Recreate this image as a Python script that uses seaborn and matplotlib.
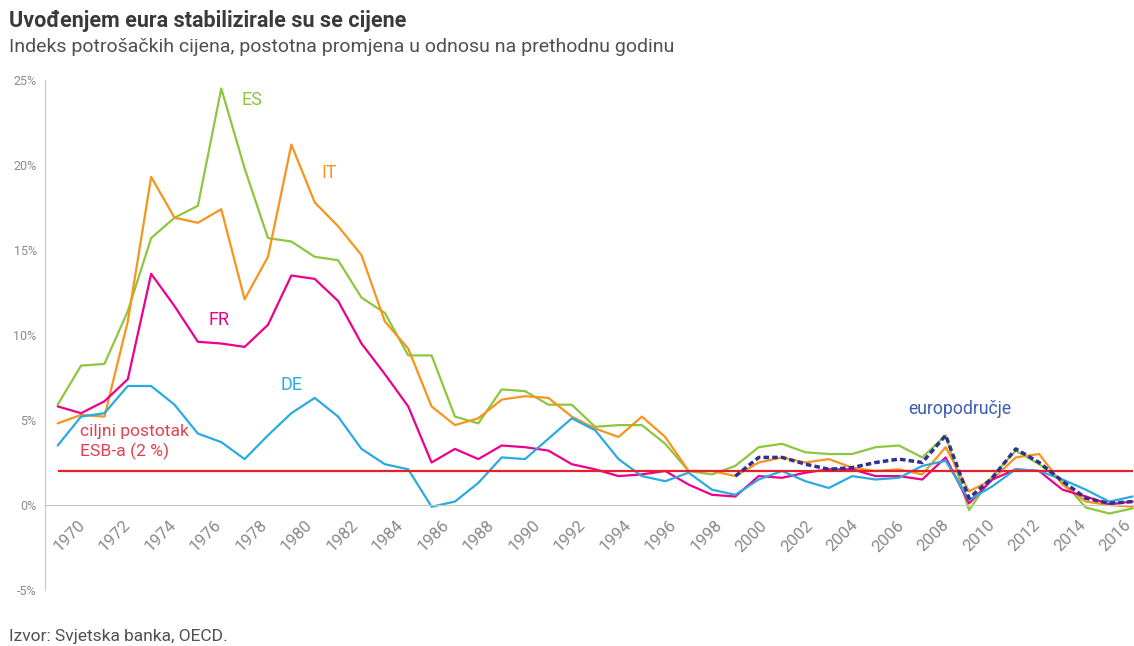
import seaborn as sns
import matplotlib.pyplot as plt

# godišnja inflacija (CPI), % promjena
years = list(range(1970, 2017))
es = [5.9, 8.2, 8.3, 11.4, 15.7, 16.9, 17.6, 24.5, 19.8, 15.7,
      15.5, 14.6, 14.4, 12.2, 11.3, 8.8, 8.8, 5.2, 4.8, 6.8,
      6.7, 5.9, 5.9, 4.6, 4.7, 4.7, 3.6, 2.0, 1.8, 2.3,
      3.4, 3.6, 3.1, 3.0, 3.0, 3.4, 3.5, 2.8, 4.1, -0.3,
      1.7, 3.2, 2.4, 1.4, -0.15, -0.5, -0.2]
it = [4.8, 5.3, 5.2, 10.8, 19.3, 16.9, 16.6, 17.4, 12.1, 14.6,
      21.2, 17.8, 16.4, 14.7, 10.8, 9.2, 5.8, 4.7, 5.1, 6.2,
      6.4, 6.3, 5.2, 4.5, 4.0, 5.2, 4.0, 2.0, 2.0, 1.7,
      2.5, 2.8, 2.5, 2.7, 2.2, 2.0, 2.1, 1.8, 3.4, 0.8,
      1.5, 2.8, 3.0, 1.2, 0.2, 0.0, -0.1]
fr = [5.8, 5.4, 6.1, 7.4, 13.6, 11.7, 9.6, 9.5, 9.3, 10.6,
      13.5, 13.3, 12.0, 9.5, 7.7, 5.8, 2.5, 3.3, 2.7, 3.5,
      3.4, 3.2, 2.4, 2.1, 1.7, 1.8, 2.0, 1.2, 0.6, 0.5,
      1.7, 1.6, 1.9, 2.1, 2.1, 1.7, 1.7, 1.5, 2.8, 0.1,
      1.5, 2.1, 2.0, 0.9, 0.5, 0.05, 0.2]
de = [3.5, 5.2, 5.4, 7.0, 7.0, 5.9, 4.2, 3.7, 2.7, 4.1,
      5.4, 6.3, 5.2, 3.3, 2.4, 2.1, -0.1, 0.2, 1.3, 2.8,
      2.7, 3.9, 5.1, 4.4, 2.7, 1.7, 1.4, 1.9, 0.9, 0.6,
      1.5, 2.0, 1.4, 1.0, 1.7, 1.5, 1.6, 2.3, 2.6, 0.3,
      1.1, 2.1, 2.0, 1.5, 0.9, 0.2, 0.5]
ea_years = list(range(1999, 2017))
ea = [1.7, 2.8, 2.8, 2.4, 2.1, 2.2, 2.5, 2.7, 2.5, 4.1,
      0.4, 1.6, 3.3, 2.5, 1.4, 0.4, 0.1, 0.2]
target = 2.0

label_years = list(range(1970, 2017, 2))
y_ticks = [-5, 0, 5, 10, 15, 20, 25]
y_labels = ['-5%', '0%', '5%', '10%', '15%', '20%', '25%']

sns.set_style('white')
plt.rcParams['font.family'] = ['Roboto', 'DejaVu Sans']
plt.rcParams['axes.unicode_minus'] = False

fig = plt.figure(figsize=(11.34, 6.46), dpi=100)
ax = fig.add_axes([45 / 1134, 56 / 646, 1089 / 1134, 510 / 646])

# linije po zemljama
series = [('ES', es, '#8dc63f'), ('IT', it, '#f7941d'),
          ('FR', fr, '#ec008c'), ('DE', de, '#29abe2')]
for name, vals, col in series:
    sns.lineplot(x=years, y=vals, color=col, lw=1.6, ax=ax)

ax.hlines(target, years[0], years[-1], color='#e8202a', lw=1.6)

sns.lineplot(x=ea_years, y=ea, color='#2e3192', lw=2.5, ax=ax)
ax.get_lines()[-1].set_dashes([1.6, 0.9])

# natpisi
ax.text(1978.3, 23.8, 'ES', color='#8dc63f', fontsize=13, ha='center', va='center')
ax.text(1981.6, 19.5, 'IT', color='#f7941d', fontsize=13, ha='center', va='center')
ax.text(1976.9, 10.9, 'FR', color='#ec008c', fontsize=13, ha='center', va='center')
ax.text(1980.0, 7.06, 'DE', color='#29abe2', fontsize=13, ha='center', va='center')
ax.text(2008.6, 5.65, 'europodručje', color='#3d5bb8', fontsize=12.7, ha='center', va='center')
ax.text(1970.95, 3.7, 'ciljni postotak\nESB-a (2 %)', color='#e2404f', fontsize=12.6,
        ha='left', va='center', linespacing=1.3)

# osi
ax.set_xlim(1969.457, 2016.06)
ax.set_ylim(-5, 25)
sns.despine(ax=ax)
ax.spines['left'].set_color('#c8c8c8')
ax.spines['bottom'].set_color('#c8c8c8')
ax.spines['bottom'].set_position(('data', 0))

ax.set_yticks(y_ticks)
ax.set_yticklabels(y_labels)
ax.tick_params(axis='y', direction='in', length=12, width=1, color='#c8c8c8',
               labelsize=9, labelcolor='#8a8a8a', pad=6)

label_pos = [y + 0.85 - 1.24 * (y - 1970) / 46 for y in label_years]
ax.set_xticks(label_pos)
ax.set_xticklabels([str(y) for y in label_years], rotation=45, ha='right', va='top',
                   rotation_mode='anchor')
ax.set_xticks([y + 0.5 for y in years[:-1]], minor=True)
ax.tick_params(axis='x', which='major', length=0, labelsize=12, labelcolor='#8a8a8a', pad=9)
ax.tick_params(axis='x', which='minor', direction='in', length=8, width=1, color='#c8c8c8')

# naslovi i izvor
fig.text(0.008, 1 - 21 / 646, 'Uvođenjem eura stabilizirale su se cijene', fontsize=15.5,
         fontweight='bold', color='#3a3a3a', va='center')
fig.text(0.008, 1 - 47 / 646, 'Indeks potrošačkih cijena, postotna promjena u odnosu na prethodnu godinu',
         fontsize=14, color='#505050', va='center')
fig.text(0.008, 1 - 636 / 646, 'Izvor: Svjetska banka, OECD.', fontsize=12.5, color='#505050', va='center')

plt.savefig('out.png', dpi=100)
